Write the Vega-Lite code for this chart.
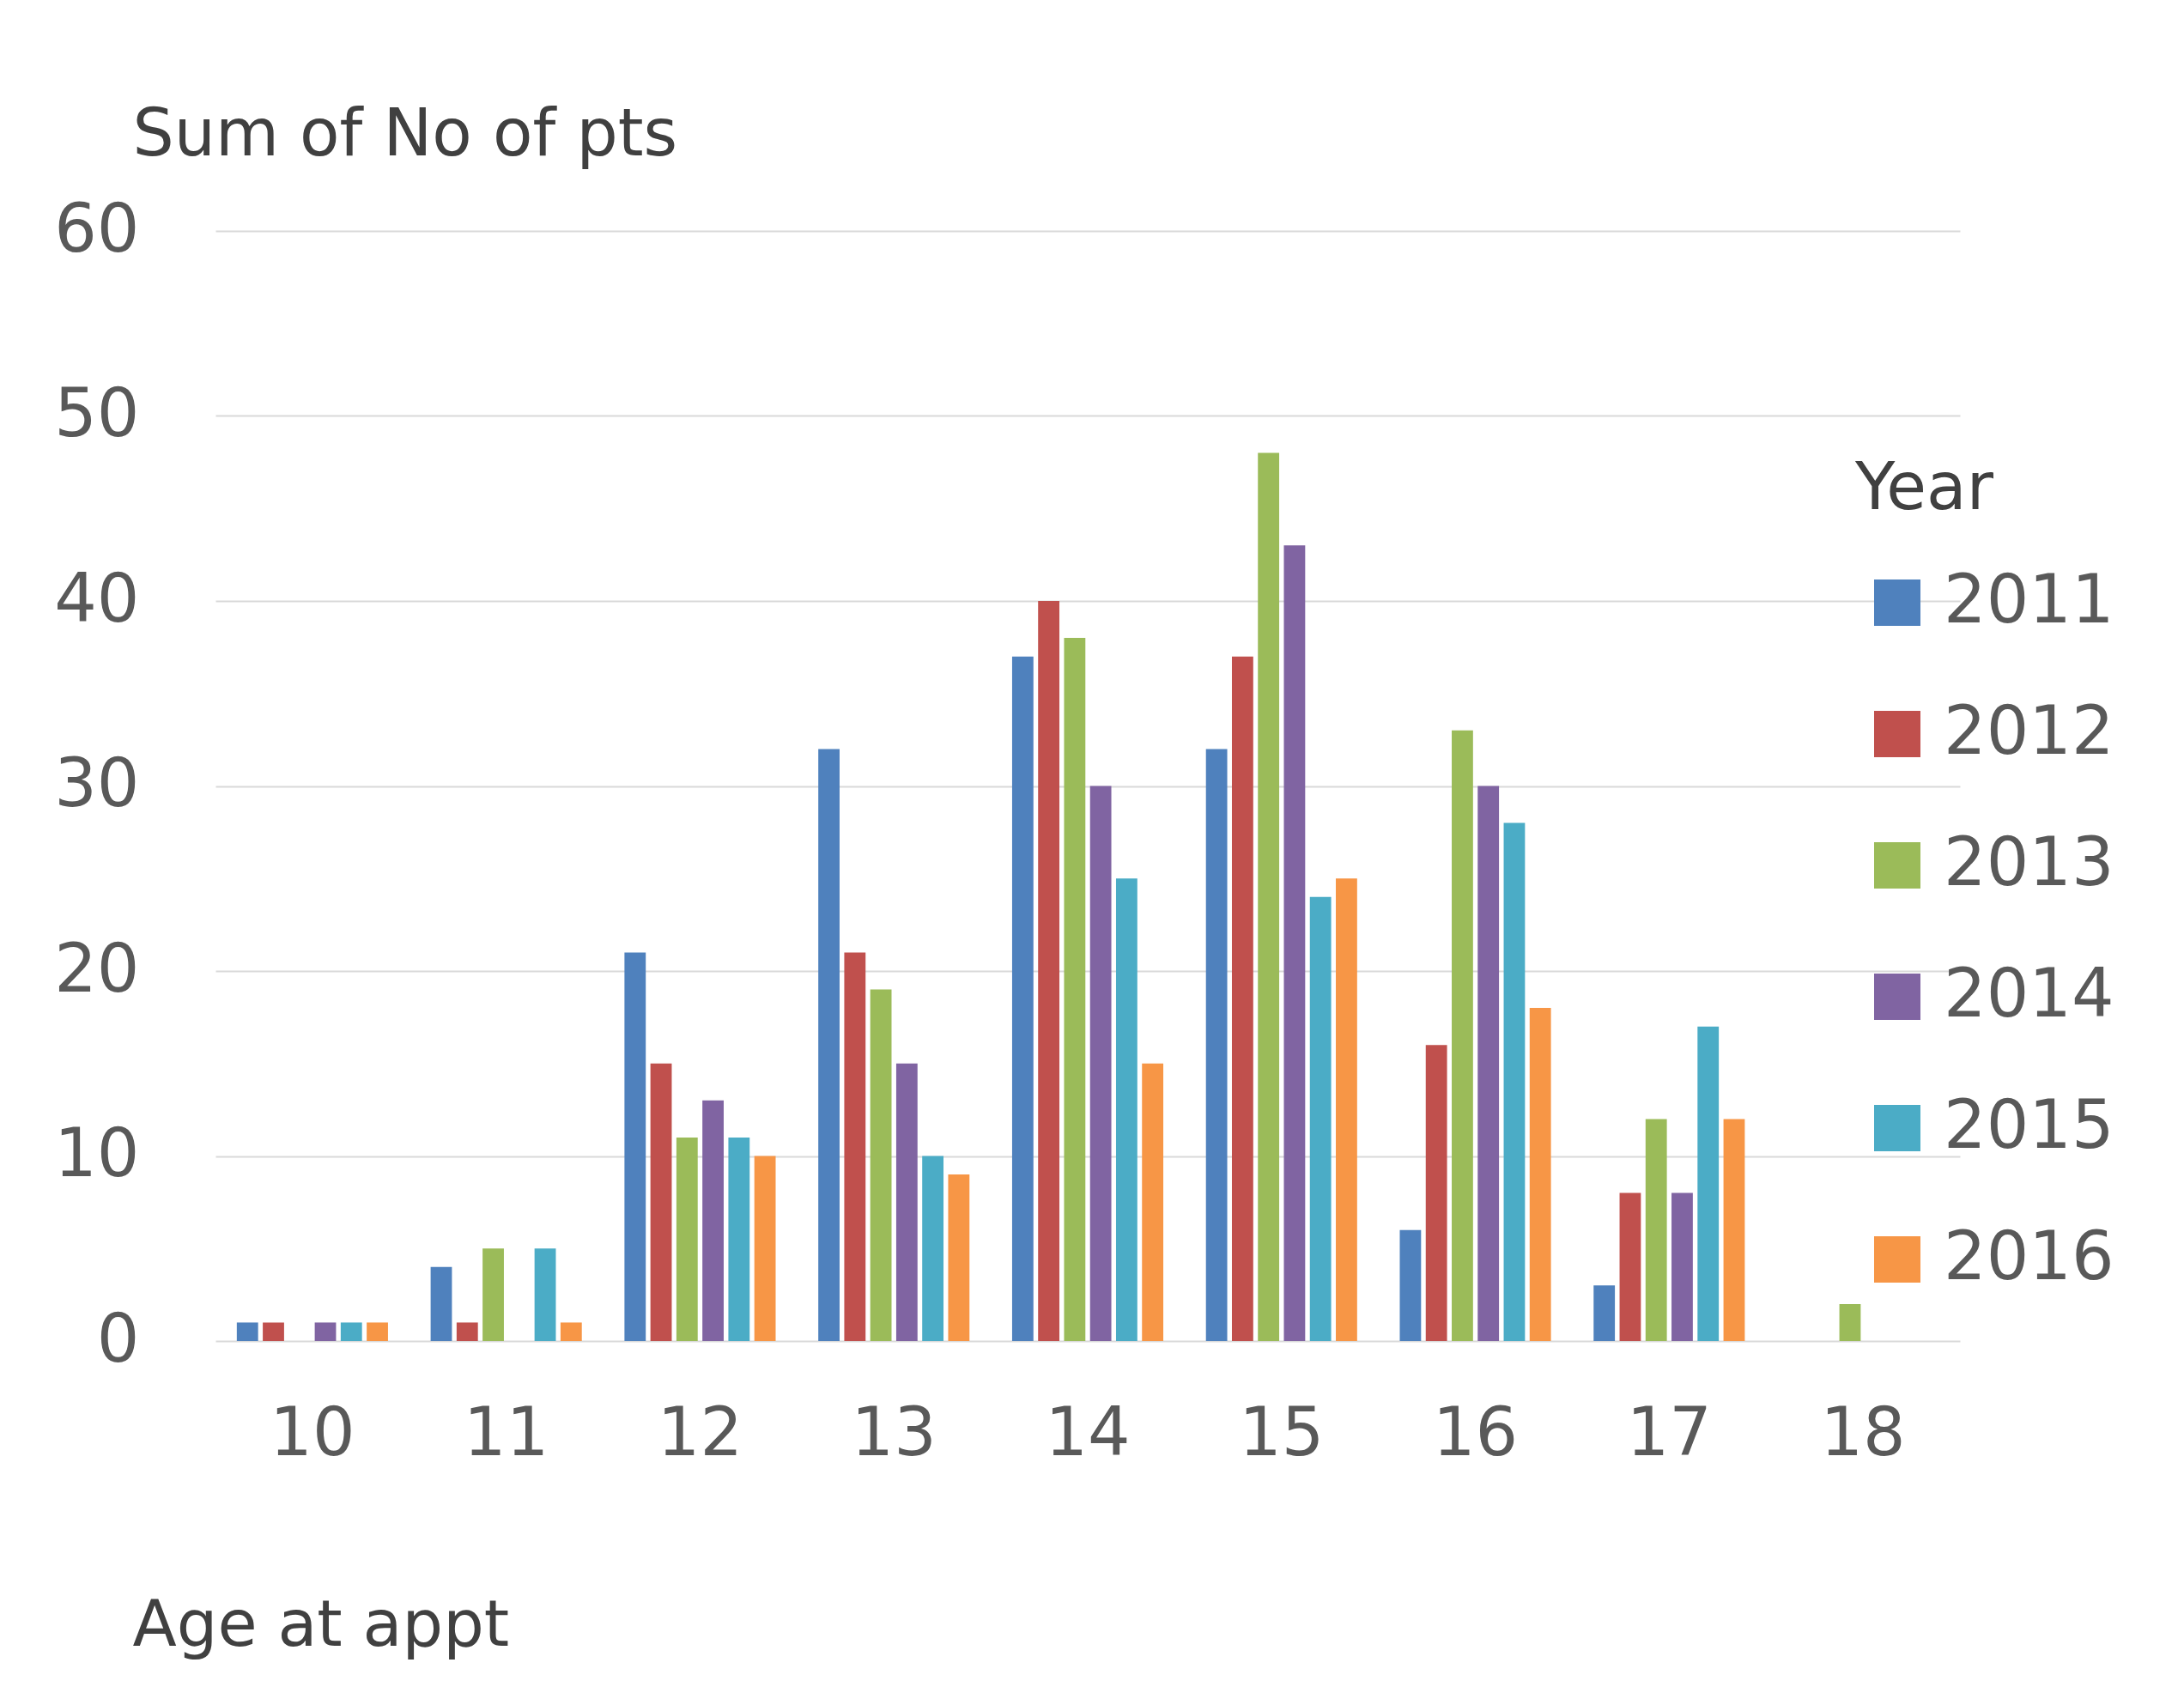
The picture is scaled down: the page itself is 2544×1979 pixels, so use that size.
{
  "$schema": "https://vega.github.io/schema/vega-lite/v6.json",
  "width": 2032,
  "height": 1293,
  "autosize": {"type": "none"},
  "padding": {"left": 251, "top": 269, "right": 261, "bottom": 417},
  "background": "white",
  "config": {"view": {"stroke": null}, "font": "DejaVu Sans"},
  "data": {
    "values": [
      {"age": 10, "year": "2011", "pts": 1},
      {"age": 10, "year": "2012", "pts": 1},
      {"age": 10, "year": "2014", "pts": 1},
      {"age": 10, "year": "2015", "pts": 1},
      {"age": 10, "year": "2016", "pts": 1},
      {"age": 11, "year": "2011", "pts": 4},
      {"age": 11, "year": "2012", "pts": 1},
      {"age": 11, "year": "2013", "pts": 5},
      {"age": 11, "year": "2015", "pts": 5},
      {"age": 11, "year": "2016", "pts": 1},
      {"age": 12, "year": "2011", "pts": 21},
      {"age": 12, "year": "2012", "pts": 15},
      {"age": 12, "year": "2013", "pts": 11},
      {"age": 12, "year": "2014", "pts": 13},
      {"age": 12, "year": "2015", "pts": 11},
      {"age": 12, "year": "2016", "pts": 10},
      {"age": 13, "year": "2011", "pts": 32},
      {"age": 13, "year": "2012", "pts": 21},
      {"age": 13, "year": "2013", "pts": 19},
      {"age": 13, "year": "2014", "pts": 15},
      {"age": 13, "year": "2015", "pts": 10},
      {"age": 13, "year": "2016", "pts": 9},
      {"age": 14, "year": "2011", "pts": 37},
      {"age": 14, "year": "2012", "pts": 40},
      {"age": 14, "year": "2013", "pts": 38},
      {"age": 14, "year": "2014", "pts": 30},
      {"age": 14, "year": "2015", "pts": 25},
      {"age": 14, "year": "2016", "pts": 15},
      {"age": 15, "year": "2011", "pts": 32},
      {"age": 15, "year": "2012", "pts": 37},
      {"age": 15, "year": "2013", "pts": 48},
      {"age": 15, "year": "2014", "pts": 43},
      {"age": 15, "year": "2015", "pts": 24},
      {"age": 15, "year": "2016", "pts": 25},
      {"age": 16, "year": "2011", "pts": 6},
      {"age": 16, "year": "2012", "pts": 16},
      {"age": 16, "year": "2013", "pts": 33},
      {"age": 16, "year": "2014", "pts": 30},
      {"age": 16, "year": "2015", "pts": 28},
      {"age": 16, "year": "2016", "pts": 18},
      {"age": 17, "year": "2011", "pts": 3},
      {"age": 17, "year": "2012", "pts": 8},
      {"age": 17, "year": "2013", "pts": 12},
      {"age": 17, "year": "2014", "pts": 8},
      {"age": 17, "year": "2015", "pts": 17},
      {"age": 17, "year": "2016", "pts": 12},
      {"age": 18, "year": "2013", "pts": 2}
    ]
  },
  "mark": {"type": "bar"},
  "encoding": {
    "x": {
      "field": "age",
      "type": "ordinal",
      "scale": {"paddingInner": 0.22, "paddingOuter": 0.11},
      "axis": {
        "title": "Age at appt",
        "titleFont": "DejaVu Sans",
        "titleFontSize": 75,
        "titleFontWeight": "normal",
        "titleColor": "#404040",
        "titleX": -97,
        "titleY": 331,
        "titleAlign": "left",
        "titleBaseline": "middle",
        "labelFont": "DejaVu Sans",
        "labelFontSize": 78,
        "labelColor": "#595959",
        "labelPadding": 70,
        "labelAngle": 0,
        "ticks": false,
        "domain": false
      }
    },
    "xOffset": {
      "field": "year",
      "type": "nominal",
      "scale": {"paddingInner": 0.18}
    },
    "y": {
      "field": "pts",
      "type": "quantitative",
      "scale": {"domain": [0, 60], "nice": false},
      "axis": {
        "title": "Sum of No of pts",
        "titleFont": "DejaVu Sans",
        "titleFontSize": 76,
        "titleFontWeight": "normal",
        "titleColor": "#404040",
        "titleAngle": 0,
        "titleX": -97,
        "titleY": -112,
        "titleAlign": "left",
        "titleBaseline": "middle",
        "values": [0, 10, 20, 30, 40, 50, 60],
        "labelFont": "DejaVu Sans",
        "labelFontSize": 78,
        "labelColor": "#595959",
        "labelPadding": 89,
        "ticks": false,
        "domain": false,
        "grid": true,
        "gridColor": "#d9d9d9",
        "gridWidth": 2
      }
    },
    "color": {
      "field": "year",
      "type": "nominal",
      "scale": {
        "domain": ["2011", "2012", "2013", "2014", "2015", "2016"],
        "range": ["#4F81BD", "#C0504D", "#9BBB59", "#8064A2", "#4BACC6", "#F79646"]
      },
      "legend": {
        "title": "Year",
        "orient": "none",
        "legendX": 1910,
        "legendY": 264,
        "padding": 0,
        "titleFont": "DejaVu Sans",
        "titleFontSize": 76,
        "titleFontWeight": "normal",
        "titleColor": "#404040",
        "titlePadding": 54,
        "titleLimit": 0,
        "symbolType": "square",
        "symbolSize": 2916,
        "symbolStrokeWidth": 0,
        "symbolOffset": 10,
        "labelOffset": 15,
        "labelLimit": 0,
        "labelFont": "DejaVu Sans",
        "labelFontSize": 78,
        "labelColor": "#595959",
        "rowPadding": 75
      }
    }
  }
}
